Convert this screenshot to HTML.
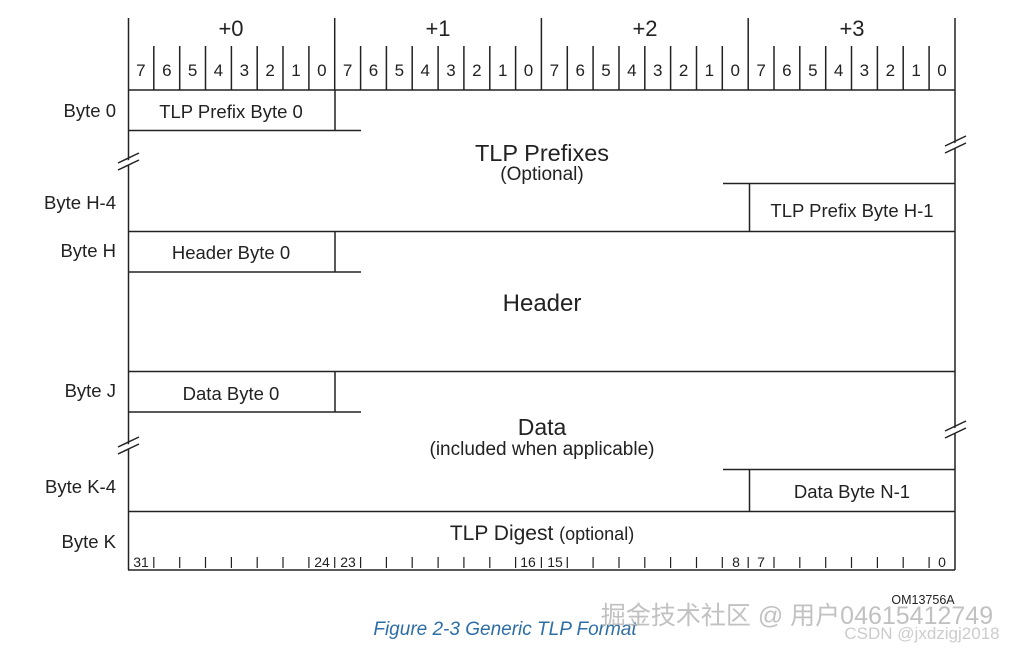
<!DOCTYPE html>
<html><head><meta charset="utf-8"><style>
html,body{margin:0;padding:0;background:#fff;}
svg{display:block;font-family:"Liberation Sans",Arial,sans-serif;}
</style></head><body>
<svg width="1011" height="649" viewBox="0 0 1011 649" xmlns="http://www.w3.org/2000/svg">
<g stroke="#222" stroke-width="1.5" fill="none">
<path d="M128.5 18V570M955 18V570"/>
<path d="M334.7 18V90M541.4 18V90M748.2 18V90"/>
<path d="M153.8 46V90M179.7 46V90M205.5 46V90M231.4 46V90M257.2 46V90M283 46V90M308.9 46V90M360.6 46V90M386.4 46V90M412.2 46V90M438.1 46V90M463.9 46V90M489.8 46V90M515.6 46V90M567.3 46V90M593.1 46V90M619 46V90M644.8 46V90M670.6 46V90M696.5 46V90M722.3 46V90M774 46V90M799.8 46V90M825.7 46V90M851.5 46V90M877.4 46V90M903.2 46V90M929.1 46V90"/>
<path d="M128 90H955M128 130.5H361M335 90V130.5M723 183.5H955M749.5 183.5V231M128 231.5H955M128 272H361M335 231.5V272M128 371.5H955M128 412H361M335 371.5V412M723 469.5H955M749.5 469.5V511M128 511.5H955M128 570H955"/>
<path stroke-width="1.2" d="M153.8 557V568M179.7 557V568M205.5 557V568M231.4 557V568M257.2 557V568M283 557V568M308.9 557V568M334.7 557V568M360.6 557V568M386.4 557V568M412.2 557V568M438.1 557V568M463.9 557V568M489.8 557V568M515.6 557V568M541.4 557V568M567.3 557V568M593.1 557V568M619 557V568M644.8 557V568M670.6 557V568M696.5 557V568M722.3 557V568M748.2 557V568M774 557V568M799.8 557V568M825.7 557V568M851.5 557V568M877.4 557V568M903.2 557V568M929.1 557V568"/>
</g>
<g stroke="#222" stroke-width="1.5">
<polygon points="118,165 140,155 140,160 118,170" fill="#fff" stroke="none"/>
<path d="M118 163L139 153M118 170L139 160"/>
<polygon points="944,148 966,138 966,143 944,153" fill="#fff" stroke="none"/>
<path d="M945 146L966 136M945 153L966 143"/>
<polygon points="118,449 140,439 140,444 118,454" fill="#fff" stroke="none"/>
<path d="M118 447L139 437M118 454L139 444"/>
<polygon points="944,433 966,423 966,428 944,438" fill="#fff" stroke="none"/>
<path d="M945 431L966 421M945 438L966 428"/>
</g>
<g fill="#222" text-anchor="middle">
<g font-size="22"><text x="231" y="36">+0</text><text x="438" y="36">+1</text><text x="645" y="36">+2</text><text x="852" y="36">+3</text></g>
<g font-size="17">
<text x="140.9" y="76">7</text><text x="166.8" y="76">6</text><text x="192.6" y="76">5</text><text x="218.4" y="76">4</text><text x="244.3" y="76">3</text><text x="270.1" y="76">2</text><text x="296" y="76">1</text><text x="321.8" y="76">0</text>
<text x="347.6" y="76">7</text><text x="373.5" y="76">6</text><text x="399.3" y="76">5</text><text x="425.2" y="76">4</text><text x="451" y="76">3</text><text x="476.8" y="76">2</text><text x="502.7" y="76">1</text><text x="528.5" y="76">0</text>
<text x="554.4" y="76">7</text><text x="580.2" y="76">6</text><text x="606" y="76">5</text><text x="631.9" y="76">4</text><text x="657.7" y="76">3</text><text x="683.6" y="76">2</text><text x="709.4" y="76">1</text><text x="735.2" y="76">0</text>
<text x="761.1" y="76">7</text><text x="786.9" y="76">6</text><text x="812.8" y="76">5</text><text x="838.6" y="76">4</text><text x="864.4" y="76">3</text><text x="890.3" y="76">2</text><text x="916.1" y="76">1</text><text x="942" y="76">0</text>
</g>
<g font-size="18.5" text-anchor="end">
<text x="116" y="117">Byte 0</text><text x="116" y="209">Byte H-4</text><text x="116" y="257">Byte H</text><text x="116" y="397">Byte J</text><text x="116" y="493">Byte K-4</text><text x="116" y="548">Byte K</text>
</g>
<g font-size="18.5">
<text x="231" y="118">TLP Prefix Byte 0</text>
<text x="852" y="217">TLP Prefix Byte H-1</text>
<text x="231" y="259">Header Byte 0</text>
<text x="231" y="400">Data Byte 0</text>
<text x="852" y="498">Data Byte N-1</text>
</g>
<text x="542" y="161" font-size="23.5">TLP Prefixes</text>
<text x="542" y="180" font-size="19">(Optional)</text>
<text x="542" y="311" font-size="24">Header</text>
<text x="542" y="435" font-size="23">Data</text>
<text x="542" y="455" font-size="19">(included when applicable)</text>
<text x="542" y="540" font-size="21">TLP Digest <tspan font-size="18">(optional)</tspan></text>
<g font-size="14">
<text x="141" y="567">31</text><text x="322" y="567">24</text><text x="348" y="567">23</text><text x="528" y="567">16</text><text x="555" y="567">15</text><text x="736" y="567">8</text><text x="761" y="567">7</text><text x="942" y="567">0</text>
</g>
<text x="923" y="604" font-size="12.5">OM13756A</text>
<text x="505" y="635" font-size="19" fill="#2e6ea6" font-style="italic">Figure  2-3  Generic TLP Format</text>
<text x="797" y="624" font-size="25" fill="#bbb" font-family="'Liberation Sans','Noto Sans CJK SC',sans-serif" opacity="0.9">掘金技术社区 @ 用户04615412749</text>
<text x="922" y="639" font-size="17" fill="#ccc">CSDN @jxdzigj2018</text>
</g>
</svg>
</body></html>
